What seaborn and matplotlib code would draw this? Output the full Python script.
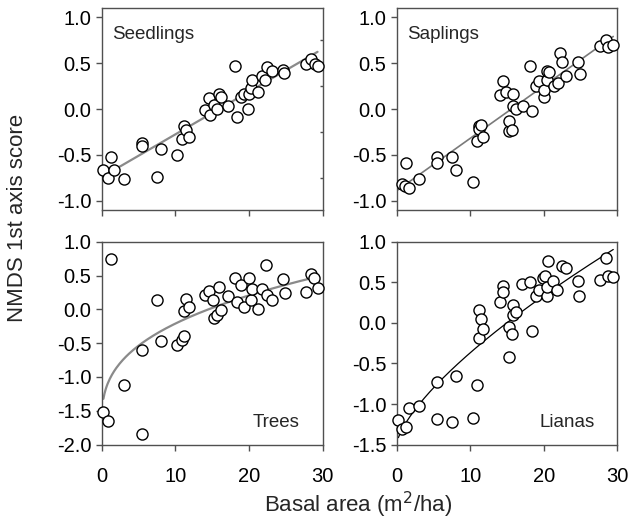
import matplotlib
matplotlib.use("Agg")
import matplotlib.pyplot as plt
import numpy as np
import seaborn as sns

# --------------------------------------------------------------------------- #
# Data
# --------------------------------------------------------------------------- #
seedlings_x = [0.23, 0.9, 1.27, 1.67, 3.08, 5.43, 5.43, 7.47, 8.0, 10.27, 10.86, 11.18,
               11.45, 11.86, 14.03, 14.57, 14.7, 15.25, 15.6, 15.9, 16.15, 17.1, 18.1,
               18.33, 18.9, 19.37, 19.9, 20.05, 20.2, 20.45, 21.27, 21.7, 22.17, 22.4,
               23.08, 24.57, 24.75, 27.7, 28.37, 28.96, 29.3]
seedlings_y = [-0.66, -0.755, -0.52, -0.665, -0.76, -0.37, -0.405, -0.74, -0.44, -0.5,
               -0.33, -0.19, -0.225, -0.30, -0.016, 0.117, -0.07, 0.045, 0.0, 0.16, 0.135,
               0.034, 0.47, -0.09, 0.128, 0.16, 0.0, 0.16, 0.225, 0.32, 0.19, 0.36, 0.315,
               0.46, 0.41, 0.42, 0.395, 0.495, 0.55, 0.495, 0.467]

saplings_x = [0.68, 1.27, 1.13, 1.68, 3.08, 5.44, 5.44, 7.48, 8.02, 10.33, 10.87, 11.24,
              11.2, 11.4, 11.78, 14.05, 14.5, 14.8, 15.27, 15.3, 15.63, 15.86, 15.86, 16.2,
              17.2, 18.1, 18.35, 18.94, 19.4, 20.07, 20.07, 20.4, 20.5, 20.75, 21.4, 21.97,
              22.2, 22.5, 23.0, 24.7, 24.9, 27.7, 28.45, 28.77, 29.45]
saplings_y = [-0.82, -0.59, -0.84, -0.856, -0.76, -0.52, -0.585, -0.52, -0.66, -0.79,
              -0.35, -0.18, -0.22, -0.17, -0.30, 0.153, 0.31, 0.19, -0.243, -0.135, -0.225,
              0.16, 0.034, 0.0, 0.034, 0.47, -0.02, 0.25, 0.305, 0.135, 0.21, 0.315, 0.41,
              0.40, 0.25, 0.285, 0.61, 0.51, 0.36, 0.51, 0.38, 0.683, 0.75, 0.675, 0.70]

trees_x = [0.23, 0.81, 1.22, 3.08, 5.43, 5.43, 7.47, 8.0, 10.27, 10.86, 11.18, 11.18,
           11.45, 11.86, 14.03, 14.57, 15.16, 15.25, 15.6, 15.9, 16.15, 17.1, 18.1, 18.33,
           18.9, 19.37, 20.05, 20.2, 20.45, 21.27, 21.7, 22.26, 22.5, 23.08, 24.66, 24.9,
           27.7, 28.37, 28.87, 29.3]
trees_y = [-1.52, -1.655, 0.754, -1.12, -1.84, -0.6, 0.135, -0.46, -0.53, -0.45, -0.39,
           -0.02, 0.154, 0.04, 0.213, 0.27, 0.14, -0.13, -0.08, 0.336, -0.008, 0.2, 0.47,
           0.115, 0.36, 0.04, 0.46, 0.14, 0.30, 0.0, 0.30, 0.656, 0.21, 0.14, 0.45, 0.24,
           0.26, 0.52, 0.47, 0.32]

lianas_x = [0.23, 0.68, 1.27, 1.68, 3.08, 5.44, 5.44, 7.48, 8.02, 10.33, 10.87, 11.2,
            11.24, 11.4, 11.78, 14.05, 14.5, 14.5, 15.27, 15.3, 15.63, 15.86, 15.86, 16.2,
            17.1, 18.1, 18.35, 18.94, 19.4, 19.94, 20.16, 20.4, 20.4, 20.6, 21.3, 21.84,
            22.43, 23.0, 24.7, 24.83, 27.7, 28.45, 28.77, 29.45]
lianas_y = [-1.197, -1.305, -1.28, -1.044, -1.03, -0.733, -1.18, -1.22, -0.66, -1.17,
            -0.766, -0.186, 0.158, 0.046, -0.078, 0.254, 0.457, 0.386, -0.42, -0.05, -0.13,
            0.22, 0.096, 0.13, 0.478, 0.50, -0.1, 0.33, 0.41, 0.56, 0.585, 0.337, 0.45,
            0.768, 0.52, 0.41, 0.70, 0.677, 0.52, 0.337, 0.53, 0.80, 0.585, 0.57]

x_ticks = [0, 10, 20, 30]
top_yticks = [-1.0, -0.5, 0.0, 0.5, 1.0]
trees_yticks = [-2.0, -1.5, -1.0, -0.5, 0.0, 0.5, 1.0]
lianas_yticks = [-1.5, -1.0, -0.5, 0.0, 0.5, 1.0]


def fitted(x, y, kind):
    """Regression curve: straight line, or y ~ a + b * x**p for the curved fits."""
    x = np.asarray(x, float)
    y = np.asarray(y, float)
    if kind == "linear":
        xs = np.linspace(0, x.max(), 200)
        return xs, np.polyval(np.polyfit(x, y, 1), xs)
    p = {"power": 0.35, "power07": 0.7}[kind]
    xs = np.linspace(x.min(), x.max(), 200)
    c = np.polyfit(x ** p, y, 1)
    return xs, np.polyval(c, xs ** p)


sns.set_theme(style="ticks")
plt.rcParams["font.family"] = ["Liberation Sans", "DejaVu Sans"]
plt.rcParams["axes.unicode_minus"] = False

EDGE = "#505050"
fig = plt.figure(figsize=(6.3, 5.22), dpi=100)

W, H = 630, 522
boxes = {  # left, top, right, bottom in pixels
    "Seedlings": (101.7, 8, 322.7, 210),
    "Saplings": (396.7, 8, 617.3, 210),
    "Trees": (101.7, 242, 322.7, 444.5),
    "Lianas": (396.7, 242, 617.3, 444.5),
}

panels = [
    ("Seedlings", seedlings_x, seedlings_y, (-1.1, 1.1), top_yticks, "linear", "#8a8a8a", 1.6, "top"),
    ("Saplings", saplings_x, saplings_y, (-1.1, 1.1), top_yticks, "linear", "#7a7a7a", 1.2, "top"),
    ("Trees", trees_x, trees_y, (-2.0, 1.0), trees_yticks, "power", "#8a8a8a", 1.6, "bottom"),
    ("Lianas", lianas_x, lianas_y, (-1.5, 1.0), lianas_yticks, "power07", "black", 0.9, "bottom"),
]

for name, xv, yv, ylim, yticks, kind, lcol, lw, row in panels:
    l, t, r, b = boxes[name]
    ax = fig.add_axes([l / W, 1 - b / H, (r - l) / W, (b - t) / H])

    xs, ys = fitted(xv, yv, kind)
    sns.lineplot(x=xs, y=ys, ax=ax, color=lcol, lw=lw, zorder=2)
    sns.scatterplot(x=xv, y=yv, ax=ax, s=64, color="white", edgecolor="black",
                    linewidth=1.0, zorder=3, clip_on=False)

    ax.set_xlim(0, 30)
    ax.set_ylim(*ylim)
    ax.set_xticks(x_ticks)
    ax.set_yticks(yticks)
    ax.set_yticklabels([f"{v:.1f}" for v in yticks])
    if row == "top":
        ax.set_xticklabels([])
    for sp in ax.spines.values():
        sp.set_visible(True)
        sp.set_color(EDGE)
        sp.set_linewidth(1.0)
    ax.tick_params(axis="both", which="major", direction="out", length=4.3, width=1.0,
                   color=EDGE, labelsize=14.5, labelcolor="black")
    ax.tick_params(axis="y", pad=3)
    ax.tick_params(axis="x", pad=12)

    if name == "Seedlings":
        ax.set_yticks([-0.75, -0.25, 0.25, 0.75], minor=True)
        ax.tick_params(axis="y", which="minor", left=False, right=True, direction="in",
                       length=2.5, width=1.0, color=EDGE)

    if row == "top":
        ax.text(0.045, 0.87, name, transform=ax.transAxes, fontsize=13.5, va="center", ha="left")
    else:
        ax.text(0.897, 0.11, name, transform=ax.transAxes, fontsize=13.5, va="center", ha="right")
    ax.set_xlabel("")
    ax.set_ylabel("")

fig.text(18 / W, 1 - 218 / H, "NMDS 1st axis score", rotation=90, fontsize=16,
         ha="center", va="center")
fig.text(358 / W, 1 - 505 / H, "Basal area (m$^2$/ha)", fontsize=16, ha="center", va="center")

fig.savefig("out.png", dpi=100)
